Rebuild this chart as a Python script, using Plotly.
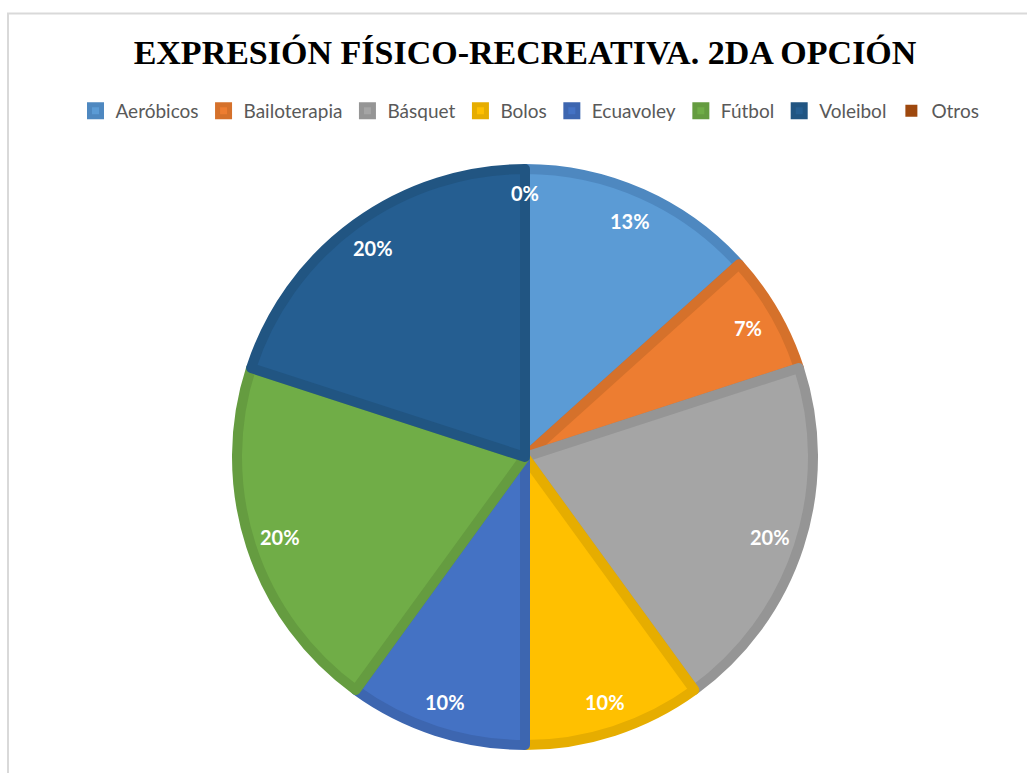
import math
import plotly.graph_objects as go

# Segunda opción de expresión físico-recreativa (número de respuestas)
categorias = ["Aeróbicos", "Bailoterapia", "Básquet", "Bolos", "Ecuavoley", "Fútbol", "Voleibol", "Otros"]
respuestas = [4, 2, 6, 3, 3, 6, 6, 0]

colores = ["#5B9BD5", "#ED7D31", "#A5A5A5", "#FFC000", "#4472C4", "#70AD47", "#255E91", "#9E480E"]
bordes = ["#4E88C0", "#D5712B", "#959595", "#E6AD00", "#3D66B0", "#659C40", "#215582", "#8E410D"]

W, H = 1027, 773
# centre and radius of the pie, in pixels
CX, CY, R = 525, 457, 293
BORDE = 10

total = sum(respuestas)

fig = go.Figure(
    go.Pie(
        labels=categorias,
        values=respuestas,
        sort=False,
        direction="clockwise",
        rotation=0,
        marker=dict(
            colors=colores,
            line=dict(color=bordes, width=[BORDE if v > 0 else 0 for v in respuestas]),
        ),
        textinfo="none",
        hoverinfo="label+value+percent",
        domain=dict(
            x=[(CX - R + BORDE / 2) / W, (CX + R - BORDE / 2) / W],
            y=[1 - (CY + R - BORDE / 2) / H, 1 - (CY - R + BORDE / 2) / H],
        ),
    )
)

# percentage labels placed near the outer part of each slice
etiquetas = []
acumulado = 0
for v in respuestas:
    medio = (acumulado + v / 2) / total
    acumulado += v
    ang = 2 * math.pi * medio
    rho = 0.88 * R if v > 0 else 0.9 * R
    etiquetas.append(
        dict(
            x=(CX + rho * math.sin(ang)) / W,
            y=1 - (CY - rho * math.cos(ang)) / H,
            xref="paper", yref="paper",
            text=f"<b>{round(100 * v / total)}%</b>",
            showarrow=False,
            font=dict(family="Lato", size=20, color="white"),
            xanchor="center", yanchor="middle",
        )
    )

fig.update_layout(
    width=W,
    height=H,
    margin=dict(l=0, r=0, t=0, b=0),
    paper_bgcolor="white",
    title=dict(
        text="<b>EXPRESIÓN FÍSICO-RECREATIVA. 2DA OPCIÓN</b>",
        font=dict(family="Liberation Serif", size=34, color="black"),
        x=525 / W,
        xanchor="center",
        y=1 - 52 / H,
        yanchor="middle",
    ),
    legend=dict(
        orientation="h",
        x=530 / W,
        xanchor="center",
        y=1 - 111 / H,
        yanchor="middle",
        font=dict(family="Lato", size=19, color="#595959"),
        itemwidth=30,
        traceorder="normal",
    ),
    annotations=etiquetas,
    shapes=[
        dict(
            type="rect", xref="paper", yref="paper",
            x0=8 / W, x1=1.02, y0=-0.02, y1=1 - 13.5 / H,
            line=dict(color="#D9D9D9", width=2), fillcolor="rgba(0,0,0,0)", layer="below",
        )
    ],
)

fig.write_html("out.html")
